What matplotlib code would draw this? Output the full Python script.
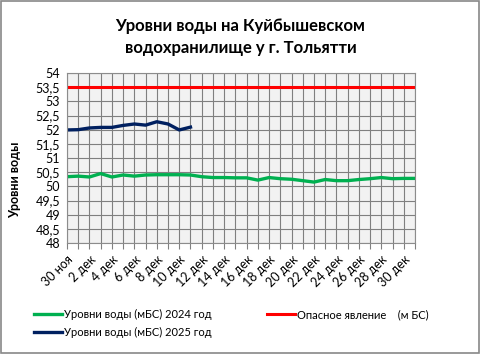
import numpy as np
import matplotlib
matplotlib.use("Agg")
import matplotlib.pyplot as plt
from matplotlib.patches import Rectangle

plt.rcParams['font.family'] = ['Lato', 'DejaVu Sans']

# dates: 30 Nov .. 31 Dec
dates = ["30 ноя"] + [f"{d} дек" for d in range(1, 32)]

level_2024 = [50.34, 50.36, 50.33, 50.45, 50.33, 50.40, 50.36, 50.40, 50.41, 50.41,
              50.41, 50.40, 50.34, 50.31, 50.31, 50.30, 50.30, 50.22, 50.31, 50.27,
              50.25, 50.20, 50.15, 50.24, 50.20, 50.20, 50.24, 50.27, 50.31, 50.27,
              50.28, 50.28]
level_2025 = [51.99, 52.00, 52.06, 52.08, 52.08, 52.15, 52.20, 52.16, 52.28, 52.20,
              51.99, 52.09]
danger_level = 53.5

x = np.arange(len(dates))

fig = plt.figure(figsize=(4.81, 3.54), dpi=100)
ax = fig.add_axes([67/481, 1-243/354, (415-67)/481, (243-73)/354])
ax.set_facecolor("#F2F2F2")

ax.plot(x, level_2024, color="#00B050", lw=2.4, label="Уровни воды (мБС) 2024 год")
ax.plot(x[:len(level_2025)], level_2025, color="#002060", lw=2.4,
        label="Уровни воды (мБС) 2025 год")
ax.plot(x, [danger_level] * len(x), color="#FF0000", lw=2.2,
        label="Опасное явление    (м БС)")

ax.set_xlim(0, len(dates) - 1)
ax.set_ylim(48, 54)
ax.set_yticks(np.arange(48, 54.01, 0.5))
ax.set_yticklabels([f"{v:g}".replace(".", ",") for v in np.arange(48, 54.01, 0.5)],
                   fontsize=9)
ax.set_xticks(x)
ax.set_xticklabels([d if i % 2 == 0 else "" for i, d in enumerate(dates)],
                   rotation=45, ha="right", rotation_mode="anchor", fontsize=9)
ax.tick_params(axis="x", length=4, color="#808080")
ax.tick_params(axis="y", length=0, pad=5)
ax.grid(True, color="#7F7F7F", lw=0.8)
for s in ax.spines.values():
    s.set_color("#8C8C8C")
    s.set_linewidth(0.8)
ax.set_axisbelow(True)

ax.set_ylabel("Уровни воды", fontsize=9, fontweight="bold")
ax.yaxis.set_label_coords(-0.132, 0.37)

fig.text(0.5, 0.95, "Уровни воды на Куйбышевском\nводохранилище у г. Тольятти",
         ha="center", va="top", fontsize=12, fontweight="bold", linespacing=1.45)

h, l = ax.get_legend_handles_labels()
fig.legend(h, l, ncol=2, loc="upper left", bbox_to_anchor=(0.05, 0.155),
           frameon=False, fontsize=8, handlelength=2.5, handletextpad=0.2,
           columnspacing=5.0, labelspacing=0.6)

fig.patches.append(Rectangle((0.002, 0.002), 0.994, 0.994, transform=fig.transFigure,
                             fill=False, edgecolor="#888888", lw=1.2))

fig.savefig("out.png", dpi=100)
